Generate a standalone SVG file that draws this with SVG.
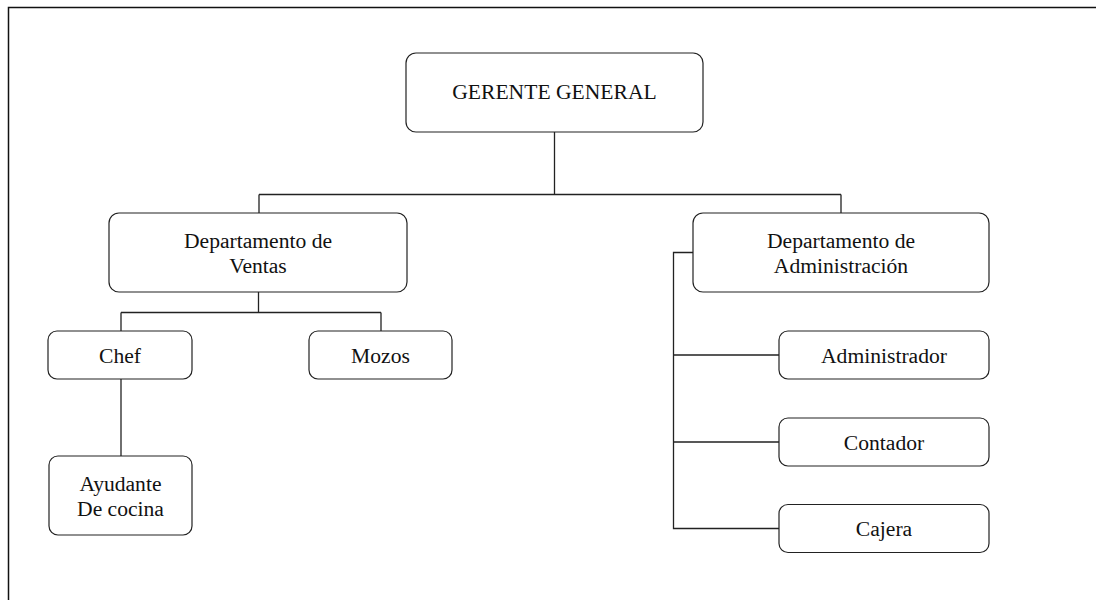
<svg xmlns="http://www.w3.org/2000/svg" width="1096" height="600" viewBox="0 0 1096 600">
<style>
.box{fill:#fff;stroke:#222;stroke-width:1.2}
.t{font-family:"Liberation Serif","Times New Roman",serif;font-size:21.6px;fill:#111;text-anchor:middle}
.c{fill:none;stroke:#222;stroke-width:1.3}
</style>
<rect x="0" y="0" width="1096" height="600" fill="#fff"/>
<path d="M8.5 620 V7.5 H1110" fill="none" stroke="#111" stroke-width="1.5"/>
<g id="connectors" class="c">
<path d="M554.5 132 V194.5 M259 194.5 H841 M259 194.5 V213 M841 194.5 V213"/>
<path d="M258.5 292 V312.5 M121 312.5 H381 M121 312.5 V331 M381 312.5 V331"/>
<path d="M121 379 V456"/>
<path d="M693 252.5 H673.5 V528.5 H779 M673.5 355 H779 M673.5 442 H779"/>
</g>
<g id="gerente"><rect class="box" x="406" y="53" width="297" height="79" rx="10"/><text class="t" x="554.5" y="99">GERENTE GENERAL</text></g>
<g id="ventas"><rect class="box" x="109" y="213" width="298" height="79" rx="10"/><text class="t" x="258" y="248">Departamento de</text><text class="t" x="258" y="273">Ventas</text></g>
<g id="admin"><rect class="box" x="693" y="213" width="296" height="79" rx="10"/><text class="t" x="841" y="248">Departamento de</text><text class="t" x="841" y="273">Administración</text></g>
<g id="chef"><rect class="box" x="48" y="331" width="144" height="48" rx="9"/><text class="t" x="120" y="362.5">Chef</text></g>
<g id="mozos"><rect class="box" x="309" y="331" width="143" height="48" rx="9"/><text class="t" x="380.5" y="362.5">Mozos</text></g>
<g id="ayudante"><rect class="box" x="49" y="456" width="143" height="79" rx="9"/><text class="t" x="120.5" y="491">Ayudante</text><text class="t" x="120.5" y="516">De cocina</text></g>
<g id="administrador"><rect class="box" x="779" y="331" width="210" height="48" rx="9"/><text class="t" x="884" y="362.5">Administrador</text></g>
<g id="contador"><rect class="box" x="779" y="418" width="210" height="48" rx="9"/><text class="t" x="884" y="449.5">Contador</text></g>
<g id="cajera"><rect class="box" x="779" y="504.5" width="210" height="48" rx="9"/><text class="t" x="884" y="535.5">Cajera</text></g>
</svg>
